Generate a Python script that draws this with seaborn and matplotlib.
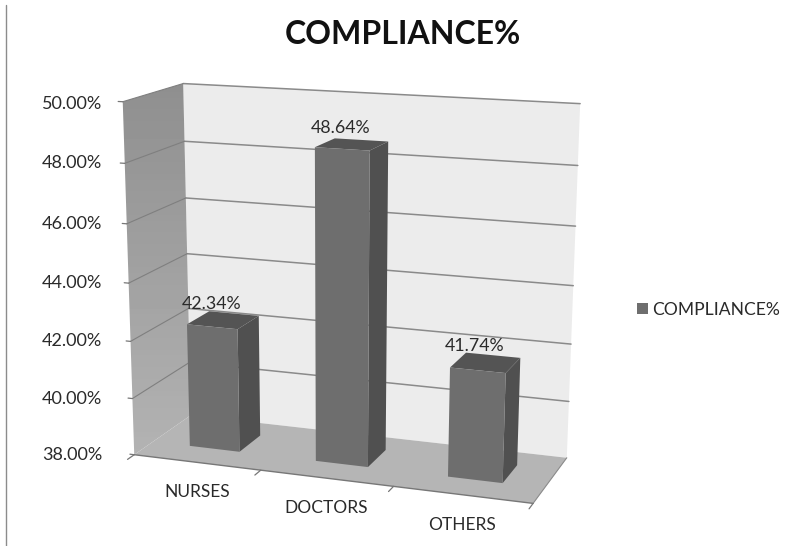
import numpy as np
import pandas as pd
import matplotlib
matplotlib.use("Agg")
import matplotlib.pyplot as plt
from matplotlib.lines import Line2D
from matplotlib.patches import Polygon
from matplotlib.transforms import Transform, Affine2D
import seaborn as sns

categories = ["NURSES", "DOCTORS", "OTHERS"]
values = [42.34, 48.64, 41.74]
series_name = "COMPLIANCE%"
y_ticks = [38, 40, 42, 44, 46, 48, 50]

W, H = 792, 546
sns.set_theme(style="white")
plt.rcParams["font.family"] = ["Lato", "DejaVu Sans"]

# Camera of the 3-D scene, fitted to the corners of its box: (x, value, depth) -> pixel
box = [((-.5, 38, 0), (135, 452)), ((2.5, 38, 0), (533, 506)), ((-.5, 50, 0), (122, 102)),
       ((-.5, 38, 1), (190, 418)), ((2.5, 38, 1), (567, 455)), ((-.5, 50, 1), (184, 83)),
       ((2.5, 50, 1), (580, 104))]
rows = []
for (x, y, z), (u, v) in box:
    X = [x, (y - 38) / 12, z, 1]
    rows.append(X + [0, 0, 0, 0] + [-u * c for c in X])
    rows.append([0, 0, 0, 0] + X + [-v * c for c in X])
CAM = np.linalg.svd(np.array(rows, float))[2][-1].reshape(3, 4)


def project(x, y, z):
    x, y, z = np.broadcast_arrays(np.asarray(x, float), np.asarray(y, float), np.asarray(z, float))
    X = np.stack([x, (y - 38) / 12, z, np.ones_like(x, dtype=float)])
    q = CAM @ X.reshape(4, -1)
    return (q[0] / q[2]).reshape(x.shape), (q[1] / q[2]).reshape(x.shape)


class Plane(Transform):
    """(category position, value) on a plane of constant depth -> display pixels."""
    input_dims = output_dims = 2
    has_inverse = False
    is_separable = False

    def __init__(self, plane_depth):
        super().__init__()
        self.plane_depth = plane_depth

    def transform_non_affine(self, values):
        values = np.asarray(values, float)
        u, v = project(values[:, 0], values[:, 1], self.plane_depth)
        return np.column_stack([u, H - v])


PX = Affine2D().scale(1, -1).translate(0, H)

fig = plt.figure(figsize=(W / 100, H / 100), dpi=100, facecolor="white")
ax = fig.add_axes([0, 0, 1, 1])
ax.set_axis_off()

df = pd.DataFrame({"group": categories, "value": values})
sns.barplot(data=df, x="group", y="value", color="#6e6e6e", saturation=1, width=0.4,
            label=series_name, ax=ax, zorder=6, linewidth=0, edgecolor="none")
bars = list(ax.patches[:len(values)])
ax.set_xlim(-.5, 2.5)
ax.set_ylim(38, 50)


def face(pts, color, z, ec="none"):
    xs, ys = project(*np.array(pts, float).T)
    ax.add_patch(Polygon(np.column_stack([xs, ys]), closed=True, fc=color, ec=ec, lw=.6,
                         transform=PX, zorder=z, clip_on=False))


def seg(a, b, color, lw=1.1, z=3):
    xs, ys = project(*np.array([a, b], float).T)
    ax.add_line(Line2D(xs, ys, color=color, lw=lw, transform=PX, zorder=z, clip_on=False))


X0, X1, Y0, Y1 = -.5, 2.5, y_ticks[0], y_ticks[-1]
face([(X0, Y0, 1), (X1, Y0, 1), (X1, Y1, 1), (X0, Y1, 1)], "#ececec", 1)
face([(X0, Y0, 0), (X1, Y0, 0), (X1, Y0, 1), (X0, Y0, 1)], "#b5b5b5", 2)

# left wall with its soft vertical gradient
xs, ys = project(*np.array([(X0, Y0, 0), (X0, Y0, 1), (X0, Y1, 1), (X0, Y1, 0)], float).T)
wall = Polygon(np.column_stack([xs, ys]), closed=True, fc="none", ec="none", transform=PX)
ax.add_patch(wall)
im = ax.imshow(np.linspace(.56, .70, 64)[:, None], cmap="gray", vmin=0, vmax=1, aspect="auto",
               extent=(115, 195, 455, 80), transform=PX, zorder=1.5)
im.set_clip_path(wall)
ax.set_xlim(-.5, 2.5)
ax.set_ylim(38, 50)

for t in y_ticks:
    if t > Y0:
        seg((X0, t, 1), (X1, t, 1), "#8a8a8a")
        seg((X0, t, 0), (X0, t, 1), "#7f7f7f", lw=.8)
    seg((X0, t, 0), (X0 - .035, t, 0), "#777777", lw=.9)
    xt, yt = project(X0, t, 0)
    ax.text(102.5, float(yt) + (2 if t == Y1 else 0), f"{t:.2f}%", transform=PX, ha="right", va="center",
            fontsize=13, color="#2a2a2a")

# axis edges of the floor
seg((X0, Y0, 0), (X1, Y0, 0), "#777777", lw=1, z=3)
seg((X1, Y0, 0), (X1, Y0, 1), "#8a8a8a", lw=.8, z=3)
for i in range(len(categories) + 1):
    seg((X0 + i, Y0, 0), (X0 + i, Y0, -.11), "#777777", lw=.9)

D0, D1 = .32, .72
for bar, name, val in zip(bars, categories, values):
    a, w, top = bar.get_x(), bar.get_width(), bar.get_height()
    # the value axis starts at its first tick, so the bar stands on the floor
    bar.set_y(Y0)
    bar.set_height(top - Y0)
    bar.set_transform(Plane(D0))
    bar.set_clip_on(False)
    # side and top faces share the bar's geometry
    face([(a + w, Y0, D0), (a + w, Y0, D1), (a + w, top, D1), (a + w, top, D0)], "#505050", 5)
    face([(a, top, D0), (a + w, top, D0), (a + w, top, D1), (a, top, D1)], "#545454", 5)
    c = a + w / 2
    tx, ty = project(c, top, .5)
    ax.text(float(tx) - 10, float(ty) - 17, f"{val:.2f}%", transform=PX, ha="center", va="center",
            fontsize=12.8, color="#2a2a2a", zorder=8)
    lx, ly = project(c, Y0, 0)
    ax.text(float(lx), float(ly) + 30, name, transform=PX, ha="center", va="center",
            fontsize=12.5, color="#2a2a2a", zorder=8)

fig.text(403 / W, 1 - 34 / H, series_name, ha="center", va="center", fontsize=23, fontweight="bold",
         color="#111111")
fig.add_artist(Line2D([5.5 / W, 5.5 / W], [0, 1 - 5 / H], color="#8c8c8c", lw=1))

leg = ax.legend(loc="center left", bbox_to_anchor=(637 / W, 1 - 310 / H), frameon=False,
                handlelength=.6, handleheight=.6, handletextpad=.25, borderpad=0, borderaxespad=0,
                fontsize=12.6, labelcolor="#2a2a2a")

fig.savefig("out.png", dpi=100)
